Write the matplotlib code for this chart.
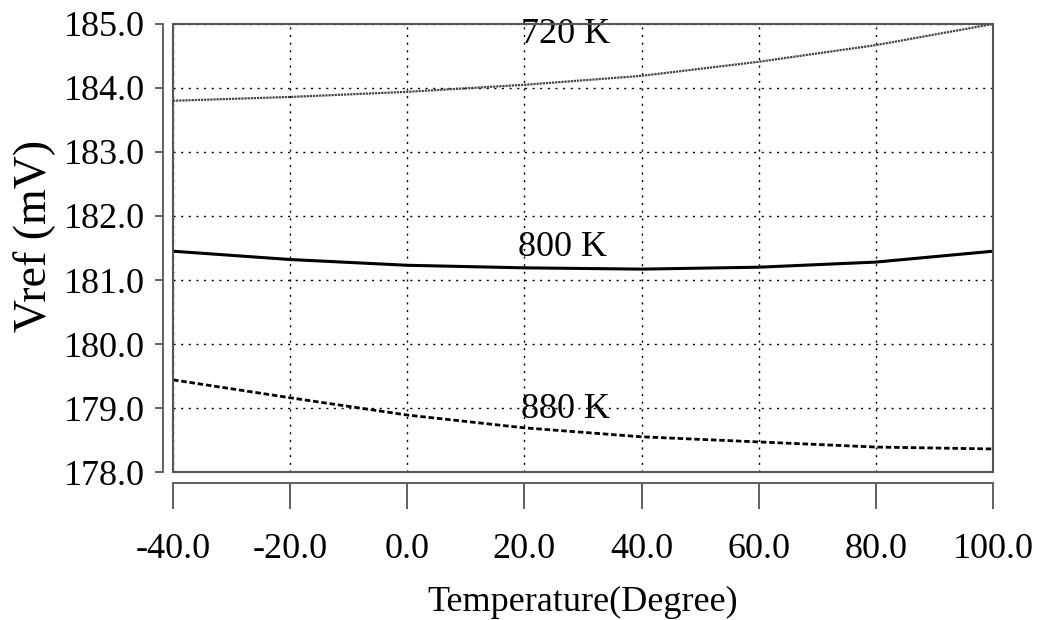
import matplotlib.pyplot as plt
from matplotlib.patches import Rectangle

plt.rcParams['font.family'] = ['Liberation Serif', 'DejaVu Serif']

# Temperature sweep (degree) and Vref curves (mV)
temps = [-40, -20, 0, 20, 40, 60, 80, 100]
vref_720 = [183.80, 183.86, 183.94, 184.05, 184.19, 184.41, 184.67, 185.00]
vref_800 = [181.45, 181.32, 181.23, 181.19, 181.17, 181.20, 181.28, 181.45]
vref_880 = [179.44, 179.16, 178.89, 178.69, 178.55, 178.47, 178.39, 178.36]

curve_labels = ["720 K", "800 K", "880 K"]
label_pos = [(27.0, 184.84), (26.5, 181.50), (27.0, 178.97)]

x_ticks = [-40, -20, 0, 20, 40, 60, 80, 100]
y_ticks = [178, 179, 180, 181, 182, 183, 184, 185]

fig = plt.figure(figsize=(10.42, 6.2), dpi=100)
ax = fig.add_axes([0.166, 0.2387, 0.787, 0.7226])

# Curves
ax.plot(temps, vref_720, color='#444444', lw=1.6, linestyle=(0, (1, 0.4)))
ax.plot(temps, vref_800, color='black', lw=2.2)
ax.plot(temps, vref_880, color='black', lw=2.0, linestyle=(0, (2, 1)))

for txt, (x, y) in zip(curve_labels, label_pos):
    ax.text(x, y, txt, ha='center', va='center', fontsize=26)

ax.set_xlim(-40, 100)
ax.set_ylim(178, 185)
ax.set_xticks(x_ticks)
ax.set_yticks(y_ticks)
ax.set_xticklabels([f"{v:.1f}" for v in x_ticks])
ax.set_yticklabels([f"{v:.1f}" for v in y_ticks])

# Dotted grid
ax.grid(True, color='black', linestyle=(0, (1.5, 4)), lw=1)

# Offset axis lines with a separate frame box
for side in ['top', 'right']:
    ax.spines[side].set_visible(False)
ax.spines['left'].set_position(('outward', 7))
ax.spines['bottom'].set_position(('outward', 8))
for side in ['left', 'bottom']:
    ax.spines[side].set_color('#555555')
    ax.spines[side].set_linewidth(1.3)
ax.add_patch(Rectangle((0, 0), 1, 1, transform=ax.transAxes, fill=False,
                       edgecolor='#555555', lw=1.5, clip_on=False, zorder=3))

ax.tick_params(axis='x', direction='out', length=19, width=1.3, color='#555555',
               pad=17, labelsize=26)
ax.tick_params(axis='y', direction='out', length=6, width=1.3, color='#555555',
               pad=7, labelsize=26)

ax.set_xlabel("Temperature(Degree)", fontsize=26, labelpad=14)
ax.set_ylabel("Vref (mV)", fontsize=33)
ax.yaxis.set_label_coords(-0.142, 0.527)

fig.savefig("out.png", dpi=100)
